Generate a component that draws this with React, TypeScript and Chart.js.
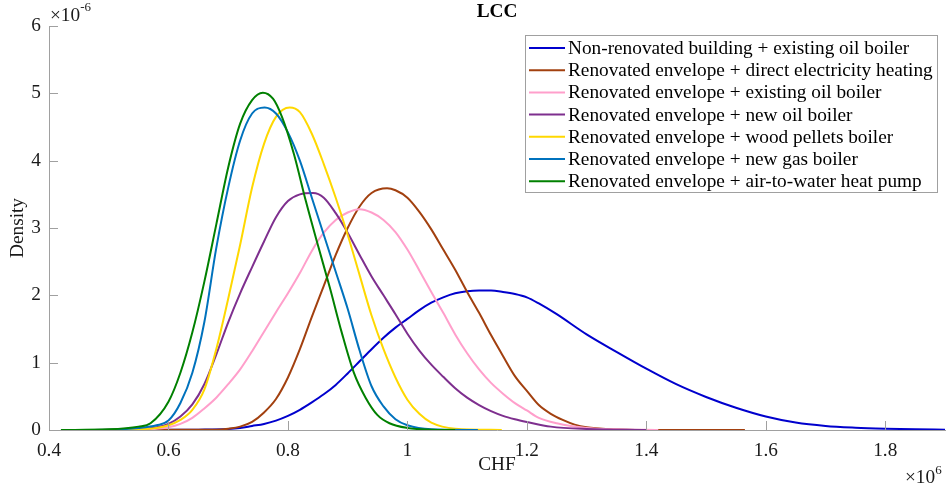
import React, { useEffect, useRef } from 'react';
import { Chart, registerables } from 'chart.js';

Chart.register(...registerables);

const FONT = '"Liberation Serif", "Times New Roman", Times, serif';

const chartTitle = 'LCC';
const xAxisTitle = 'CHF';
const yAxisTitle = 'Density';

const xMin = 0.4;
const xMax = 1.9;
const xStep = 0.2;
const yMin = 0;
const yMax = 6;
const yStep = 1;

const seriesLabels = [
  'Non-renovated building + existing oil boiler',
  'Renovated envelope + direct electricity heating',
  'Renovated envelope + existing oil boiler',
  'Renovated envelope + new oil boiler',
  'Renovated envelope + wood pellets boiler',
  'Renovated envelope + new gas boiler',
  'Renovated envelope + air-to-water heat pump',
];

const seriesColors = ['#0000CD', '#A2400F', '#FF9FCB', '#7E2F8E', '#FFD800', '#0072BD', '#008000'];

// x in CHF ×10^6, density in ×10^-6
const xNonRen = [0.55, 0.6, 0.65, 0.7, 0.72, 0.74, 0.76, 0.78, 0.8, 0.82, 0.84, 0.86, 0.88, 0.9, 0.92, 0.94, 0.96, 0.98, 1.0, 1.02, 1.04, 1.06, 1.08, 1.1, 1.12, 1.14, 1.16, 1.18, 1.2, 1.22, 1.25, 1.3, 1.35, 1.4, 1.45, 1.5, 1.55, 1.6, 1.65, 1.7, 1.75, 1.8, 1.85, 1.9];
const yNonRen = [0, 0.002, 0.005, 0.015, 0.03, 0.06, 0.09, 0.14, 0.21, 0.3, 0.41, 0.53, 0.67, 0.84, 1.02, 1.2, 1.37, 1.52, 1.65, 1.78, 1.89, 1.97, 2.03, 2.06, 2.07, 2.07, 2.05, 2.02, 1.97, 1.88, 1.72, 1.42, 1.16, 0.91, 0.68, 0.49, 0.33, 0.2, 0.11, 0.06, 0.035, 0.02, 0.01, 0.005];

const xElec = [0.55, 0.62, 0.68, 0.7, 0.72, 0.74, 0.76, 0.78, 0.8, 0.82, 0.84, 0.86, 0.88, 0.9, 0.92, 0.94, 0.966, 0.98, 1.0, 1.02, 1.04, 1.06, 1.08, 1.1, 1.12, 1.14, 1.16, 1.18, 1.2, 1.22, 1.24, 1.26, 1.28, 1.3, 1.34, 1.4, 1.565];
const yElec = [0, 0.002, 0.005, 0.02, 0.05, 0.12, 0.26, 0.46, 0.78, 1.2, 1.68, 2.14, 2.6, 3.0, 3.32, 3.52, 3.59, 3.56, 3.45, 3.24, 2.98, 2.68, 2.38, 2.05, 1.74, 1.41, 1.1, 0.8, 0.58, 0.37, 0.24, 0.15, 0.08, 0.04, 0.01, 0, 0];

const xOilExist = [0.45, 0.55, 0.58, 0.6, 0.62, 0.64, 0.66, 0.68, 0.7, 0.72, 0.74, 0.76, 0.78, 0.8, 0.82, 0.84, 0.86, 0.88, 0.9, 0.92, 0.94, 0.96, 0.98, 1.0, 1.02, 1.04, 1.06, 1.08, 1.1, 1.12, 1.14, 1.16, 1.18, 1.2, 1.22, 1.25, 1.3, 1.35, 1.42];
const yOilExist = [0, 0.005, 0.02, 0.04, 0.09, 0.18, 0.32, 0.48, 0.68, 0.9, 1.17, 1.46, 1.75, 2.03, 2.33, 2.66, 2.93, 3.12, 3.23, 3.28, 3.23, 3.12, 2.94, 2.68, 2.37, 2.05, 1.74, 1.42, 1.14, 0.9, 0.7, 0.54, 0.4, 0.29, 0.18, 0.1, 0.03, 0.01, 0];

const xOilNew = [0.45, 0.55, 0.58, 0.6, 0.62, 0.64, 0.66, 0.68, 0.7, 0.72, 0.74, 0.76, 0.78, 0.8, 0.82, 0.842, 0.86, 0.88, 0.9, 0.92, 0.94, 0.96, 0.98, 1.0, 1.02, 1.04, 1.06, 1.08, 1.1, 1.12, 1.14, 1.16, 1.18, 1.2, 1.24, 1.3, 1.4];
const yOilNew = [0, 0.01, 0.04, 0.09, 0.2, 0.38, 0.68, 1.12, 1.6, 2.03, 2.42, 2.8, 3.16, 3.4, 3.5, 3.52, 3.45, 3.22, 2.93, 2.6, 2.28, 2.0, 1.72, 1.43, 1.18, 0.97, 0.79, 0.62, 0.48, 0.37, 0.28, 0.21, 0.16, 0.12, 0.05, 0.015, 0];

const xPellets = [0.45, 0.55, 0.58, 0.6, 0.62, 0.64, 0.66, 0.68, 0.7, 0.72, 0.74, 0.76, 0.78, 0.803, 0.82, 0.84, 0.86, 0.88, 0.9, 0.92, 0.94, 0.96, 0.98, 1.0, 1.02, 1.04, 1.08, 1.158];
const yPellets = [0, 0.01, 0.03, 0.07, 0.15, 0.3, 0.6, 1.2, 1.95, 2.75, 3.6, 4.25, 4.65, 4.79, 4.72, 4.4, 3.95, 3.45, 2.9, 2.3, 1.7, 1.2, 0.78, 0.45, 0.24, 0.11, 0.02, 0];

const xGas = [0.42, 0.5, 0.55, 0.58, 0.6, 0.62, 0.64, 0.66, 0.68, 0.7, 0.72, 0.74, 0.761, 0.78, 0.8, 0.82, 0.84, 0.86, 0.88, 0.9, 0.92, 0.94, 0.96, 0.98, 1.0, 1.04, 1.118];
const yGas = [0, 0.005, 0.03, 0.07, 0.14, 0.4, 0.85, 1.6, 2.7, 3.6, 4.3, 4.7, 4.79, 4.7, 4.42, 4.0, 3.45, 2.9, 2.35, 1.8, 1.18, 0.65, 0.35, 0.16, 0.07, 0.01, 0];

const xHeatPump = [0.42, 0.5, 0.55, 0.57, 0.6, 0.62, 0.64, 0.66, 0.68, 0.7, 0.72, 0.74, 0.758, 0.775, 0.79, 0.81, 0.83, 0.85, 0.87, 0.89, 0.91, 0.93, 0.95, 0.97, 1.0, 1.04, 1.08];
const yHeatPump = [0, 0.01, 0.05, 0.1, 0.42, 0.85, 1.45, 2.2, 3.05, 3.9, 4.55, 4.9, 5.01, 4.92, 4.65, 4.1, 3.4, 2.75, 2.12, 1.45, 0.86, 0.48, 0.22, 0.1, 0.03, 0.005, 0];

const seriesX = [xNonRen, xElec, xOilExist, xOilNew, xPellets, xGas, xHeatPump];
const seriesY = [yNonRen, yElec, yOilExist, yOilNew, yPellets, yGas, yHeatPump];

const AXIS_COLOR = '#a0a0a0';
const TEXT_COLOR = '#1a1a1a';
const FONT_SIZE = 19.3;

const decorPlugin = {
  id: 'decor',
  afterDatasetsDraw(chart: any) {
    const { ctx, chartArea, scales } = chart;
    const tl = 9;
    ctx.save();
    ctx.strokeStyle = AXIS_COLOR;
    ctx.lineWidth = 1;
    ctx.beginPath();
    scales.x.ticks.forEach((t: any) => {
      const px = Math.round(scales.x.getPixelForValue(t.value)) + 0.5;
      ctx.moveTo(px, chartArea.bottom);
      ctx.lineTo(px, chartArea.bottom - tl);
    });
    scales.y.ticks.forEach((t: any) => {
      const py = Math.round(scales.y.getPixelForValue(t.value)) + 0.5;
      ctx.moveTo(chartArea.left, py);
      ctx.lineTo(chartArea.left + tl, py);
    });
    ctx.stroke();
    ctx.restore();
  },
  afterDraw(chart: any) {
    const { ctx, chartArea } = chart;
    const cx = (chartArea.left + chartArea.right) / 2;
    ctx.save();
    ctx.fillStyle = '#000';
    ctx.textAlign = 'center';
    ctx.textBaseline = 'middle';
    ctx.font = `bold ${FONT_SIZE}px ${FONT}`;
    ctx.fillText(chartTitle, cx, 12);

    ctx.fillStyle = TEXT_COLOR;
    ctx.font = `${FONT_SIZE}px ${FONT}`;
    ctx.fillText(xAxisTitle, cx, 465);

    ctx.save();
    ctx.translate(18, (chartArea.top + chartArea.bottom) / 2);
    ctx.rotate(-Math.PI / 2);
    ctx.fillText(yAxisTitle, 0, 0);
    ctx.restore();

    // exponent labels
    ctx.textAlign = 'left';
    ctx.textBaseline = 'alphabetic';
    ctx.font = `${FONT_SIZE}px ${FONT}`;
    ctx.fillText('\u00d710', chartArea.left + 1, 21);
    let w = ctx.measureText('\u00d710').width;
    ctx.font = `13px ${FONT}`;
    ctx.fillText('-6', chartArea.left + 1 + w, 11);

    ctx.font = `${FONT_SIZE}px ${FONT}`;
    ctx.fillText('\u00d710', 905, 483);
    w = ctx.measureText('\u00d710').width;
    ctx.font = `13px ${FONT}`;
    ctx.fillText('6', 905 + w, 474);

    // legend
    const bx = 525.5, by = 35.5, bw = 412, bh = 157;
    ctx.fillStyle = '#fff';
    ctx.fillRect(bx, by, bw, bh);
    ctx.strokeStyle = AXIS_COLOR;
    ctx.lineWidth = 1;
    ctx.strokeRect(bx, by, bw, bh);
    ctx.font = `${FONT_SIZE}px ${FONT}`;
    ctx.textBaseline = 'middle';
    ctx.textAlign = 'left';
    seriesLabels.forEach((lab, i) => {
      const y = 48 + i * 22.2;
      ctx.strokeStyle = seriesColors[i];
      ctx.lineWidth = 2;
      ctx.beginPath();
      ctx.moveTo(529, y);
      ctx.lineTo(565, y);
      ctx.stroke();
      ctx.fillStyle = '#000';
      ctx.fillText(lab, 568, y + 1);
    });
    ctx.restore();
  },
};

export default function App() {
  const ref = useRef<HTMLCanvasElement | null>(null);
  useEffect(() => {
    document.body.style.margin = '0';
    if (!ref.current) return;
    const datasets = seriesLabels.map((label, i) => ({
      label,
      data: seriesX[i].map((x, j) => ({ x, y: seriesY[i][j] })),
      borderColor: seriesColors[i],
      backgroundColor: seriesColors[i],
      borderWidth: 2,
      pointRadius: 0,
      fill: false,
      cubicInterpolationMode: 'monotone' as const,
      order: seriesLabels.length - 1 - i,
    }));
    const chart = new Chart(ref.current, {
      type: 'line',
      data: { datasets },
      options: {
        responsive: false,
        animation: false,
        layout: { padding: { top: 26, right: 4, left: 0, bottom: 0 } },
        plugins: {
          legend: { display: false },
          title: { display: false },
          tooltip: { enabled: false },
        },
        scales: {
          x: {
            type: 'linear',
            min: xMin,
            max: xMax,
            afterFit: (s: any) => { s.height = 60; },
            ticks: {
              stepSize: xStep,
              includeBounds: false,
              padding: 9,
              color: TEXT_COLOR,
              font: { family: FONT, size: FONT_SIZE },
              maxRotation: 0,
              autoSkip: false,
              callback: (v: any) => String(Number(Number(v).toFixed(1))),
            },
            grid: { drawOnChartArea: false, drawTicks: false },
            border: { color: AXIS_COLOR, width: 1 },
          },
          y: {
            type: 'linear',
            min: yMin,
            max: yMax,
            afterFit: (s: any) => { s.width = 49; },
            ticks: {
              stepSize: yStep,
              padding: 8,
              color: TEXT_COLOR,
              font: { family: FONT, size: FONT_SIZE },
              callback: (v: any) => String(Math.round(Number(v))),
            },
            grid: { drawOnChartArea: false, drawTicks: false },
            border: { color: AXIS_COLOR, width: 1 },
          },
        },
      },
      plugins: [decorPlugin],
    });
    return () => chart.destroy();
  }, []);
  return <canvas ref={ref} width={949} height={490} style={{ display: 'block' }} />;
}
